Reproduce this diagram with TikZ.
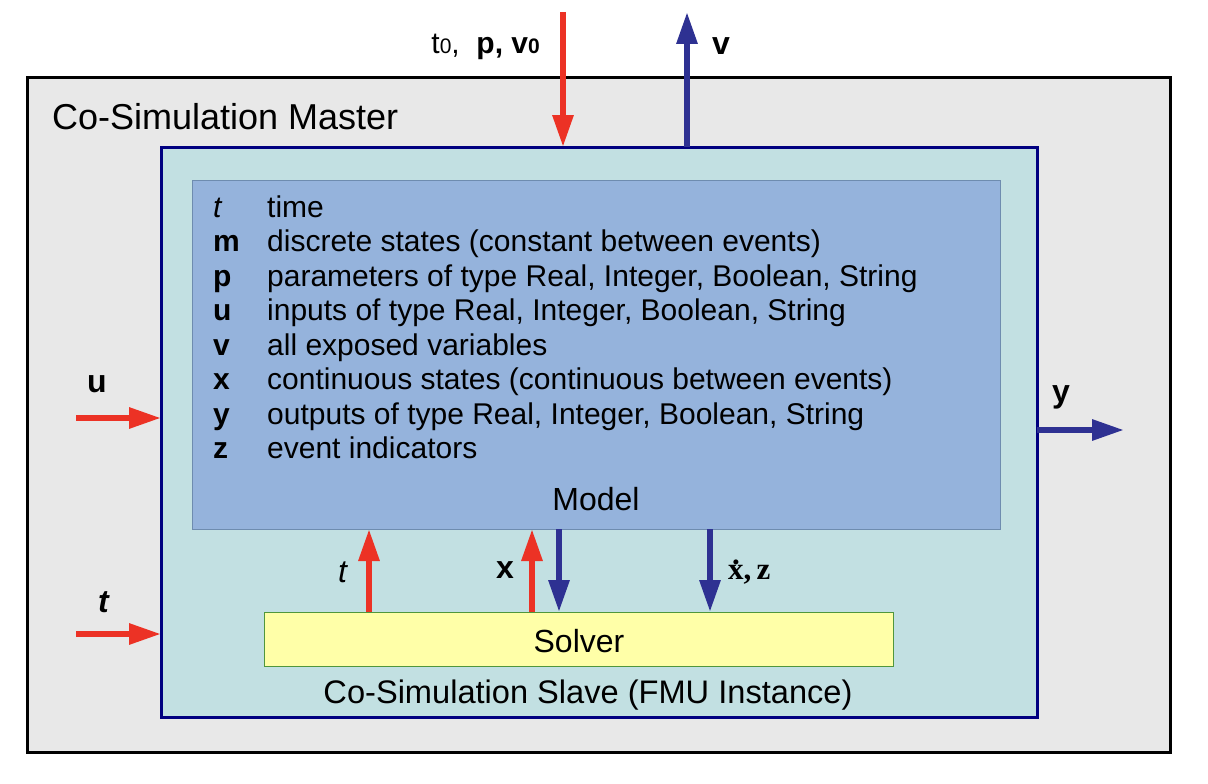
\documentclass[tikz,border=0pt]{standalone}
\usepackage{fontspec}
\setmainfont{Liberation Sans}
\newfontfamily\seriffont{Liberation Serif}
\usetikzlibrary{arrows.meta,positioning}

\definecolor{flowred}{RGB}{236,50,37}
\definecolor{flowblue}{RGB}{46,49,146}
\definecolor{slaveedge}{RGB}{0,0,128}
\definecolor{slavefill}{RGB}{194,224,226}
\definecolor{modelfill}{RGB}{149,179,220}
\definecolor{modeledge}{RGB}{110,140,175}
\definecolor{solverfill}{RGB}{255,255,168}
\definecolor{solveredge}{RGB}{80,150,60}
\definecolor{masterfill}{RGB}{232,232,232}

\newcommand\smallzero{{\fontsize{21}{21}\selectfont 0}}
\newcommand\dotx{\ooalign{x\cr\hidewidth\raisebox{15pt}{.}\hidewidth\cr}}

\tikzset{
  box/.style={draw,inner sep=0pt,outer sep=0pt},
  redflow/.style={draw=flowred,line width=6pt,-{Triangle[width=20pt,length=32pt]}},
  blueflow/.style={draw=flowblue,line width=6pt,-{Triangle[width=20pt,length=32pt]}},
  txt/.style={inner sep=0pt,anchor=base,font=\fontsize{32}{34.5}\selectfont}
}

\begin{document}
\begin{tikzpicture}[x=1pt,y=-1pt]
   \useasboundingbox (0,0) rectangle (1208,784);
   % boxes
   \node[box,fill=masterfill,line width=3pt,minimum width=1143pt,minimum height=674pt] (master) at (598.5,415) {};
   \node[box,draw=slaveedge,fill=slavefill,line width=3pt,minimum width=876pt,minimum height=570pt] (slave) at (599,432) {};
   \node[box,draw=modeledge,fill=modelfill,line width=1pt,minimum width=808pt,minimum height=349pt] (model) at (596,354.5) {};
   \node[box,draw=solveredge,fill=solverfill,line width=1pt,minimum width=629pt,minimum height=54pt] (solver) at (578.5,639) {};

   \node[txt,anchor=base west,font=\fontsize{36}{40}\selectfont] (mastertxt) at (52,129) {Co-Simulation Master};
   \node[txt] (modeltxt) at (596,510) {Model};
   \node[txt] (solvertxt) at (579,652) {Solver};
   \node[txt,font=\fontsize{32.6}{36}\selectfont] (slavetxt) at (588,703) {Co-Simulation Slave (FMU Instance)};

   % variable list
   \node[txt,anchor=base west,font=\fontsize{30}{34.5}\selectfont] (vars) at (213,217) {\begin{tabular}[t]{@{}p{54pt}@{}l@{}}
      \textit{t} & time\\
      \textbf{m} & discrete states (constant between events)\\
      \textbf{p} & parameters of type Real, Integer, Boolean, String\\
      \textbf{u} & inputs of type Real, Integer, Boolean, String\\
      \textbf{v} & all exposed variables\\
      \textbf{x} & continuous states (continuous between events)\\
      \textbf{y} & outputs of type Real, Integer, Boolean, String\\
      \textbf{z} & event indicators
   \end{tabular}};

   % outer connectors
   \coordinate (pin) at (563,12);
   \coordinate (vout) at (687,12);
   \coordinate (uin) at (76,418);
   \coordinate (tin) at (76,634);
   \coordinate (yout) at (1124,430);
   \draw[redflow] (pin) -- (pin |- slave.north);
   \draw[blueflow] (vout |- slave.north) -- (vout);
   \draw[redflow] (uin) -- (uin -| slave.west);
   \draw[redflow] (tin) -- (tin -| slave.west);
   \draw[blueflow] (yout -| slave.east) -- (yout);
   \node[txt,anchor=base east,font=\fontsize{30}{34}\selectfont] (pinlbl) at (540,54) {t\smallzero,\ \ \textbf{p,\ v\smallzero}};
   \node[txt,anchor=base west] (voutlbl) at (712,55) {\textbf{v}};
   \node[txt] (uinlbl) at (97,392) {\textbf{u}};
   \node[txt] (tinlbl) at (104,612) {\textbf{\textit{t}}};
   \node[txt] (youtlbl) at (1061,402) {\textbf{y}};

   % solver <-> model
   \coordinate (tx) at (369,0);
   \coordinate (xup) at (532,0);
   \coordinate (xdown) at (559,0);
   \coordinate (dz) at (710,0);
   \draw[redflow] (tx |- solver.north) -- (tx |- model.south);
   \draw[redflow] (xup |- solver.north) -- (xup |- model.south);
   \draw[blueflow] (xdown |- model.south) -- (xdown |- solver.north);
   \draw[blueflow] (dz |- model.south) -- (dz |- solver.north);
   \node[txt] (txlbl) at (343,582) {\textit{t}};
   \node[txt] (xuplbl) at (505,578) {\textbf{x}};
   \node[txt,anchor=base west,font=\fontsize{31}{34}\selectfont\seriffont\bfseries] (dzlbl) at (728,579) {\dotx,\,z};
\end{tikzpicture}
\end{document}
